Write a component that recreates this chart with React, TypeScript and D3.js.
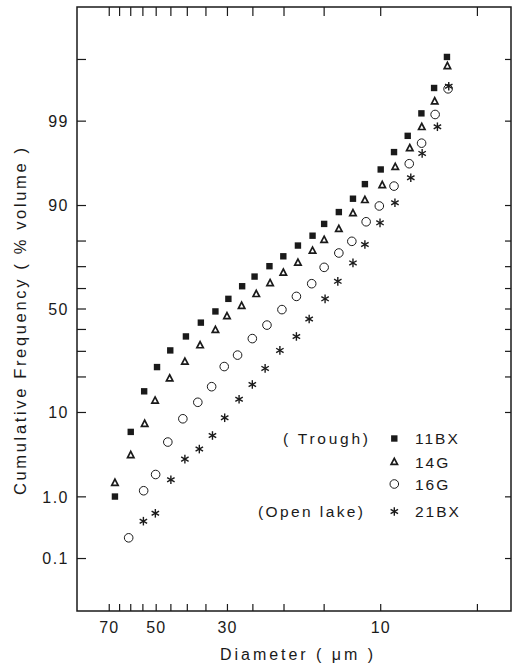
import React from "react";
import * as d3 from "d3";

// ---- axis ticks / labels ----
const tickDiameters = [70, 65, 60, 55, 50, 45, 40, 35, 30, 25, 20, 15, 10, 5];
const labelDiameters = [70, 50, 30, 10];
const tickPercents = [0.1, 1, 10, 20, 30, 40, 50, 60, 70, 80, 90, 99, 99.9];
const labelPercentValues = [0.1, 1, 10, 50, 90, 99];
const labelPercentTexts = ["0.1", "1.0", "10", "50", "90", "99"];

// ---- series: diameter (µm) and cumulative frequency (% volume) ----
const d11BX = [67.2, 60.0, 54.5, 49.7, 45.2, 40.4, 36.3, 32.7, 29.8, 27.0, 24.7, 22.2, 20.1, 18.1, 16.3, 15.0, 13.5, 12.2, 11.2, 10.0, 9.09, 8.24, 7.47, 6.82, 6.22];
const p11BX = [1.01, 6.4, 15.4, 23.6, 30.4, 36.7, 43.3, 48.8, 55.0, 61.1, 65.6, 70.2, 74.3, 78.4, 81.8, 85.4, 88.5, 91.4, 93.9, 95.8, 97.4, 98.4, 99.23, 99.69, 99.91];

const d14G = [67.2, 60.0, 54.3, 50.4, 45.4, 40.7, 36.5, 32.7, 30.1, 27.1, 24.4, 22.1, 20.1, 18.1, 16.3, 15.0, 13.5, 12.2, 11.2, 9.89, 9.01, 8.12, 7.45, 6.79, 6.20];
const p14G = [1.58, 3.55, 7.8, 12.9, 19.6, 25.8, 32.8, 39.9, 46.6, 51.7, 57.5, 62.7, 67.5, 71.8, 76.6, 80.5, 84.0, 88.3, 91.2, 93.8, 96.1, 97.7, 98.8, 99.5, 99.87];

const d16G = [60.9, 54.7, 50.2, 46.0, 41.3, 37.1, 33.6, 30.7, 27.9, 25.1, 22.6, 20.3, 18.3, 16.4, 15.0, 13.5, 12.3, 11.1, 10.1, 9.09, 8.15, 7.46, 6.77, 6.17];
const p16G = [0.23, 1.22, 2.02, 4.97, 8.7, 12.4, 16.8, 23.8, 28.4, 35.7, 42.1, 49.7, 56.2, 62.3, 69.7, 75.6, 79.9, 86.0, 89.9, 93.6, 96.4, 98.0, 99.2, 99.68];

const d21BX = [54.8, 50.3, 45.0, 40.7, 36.7, 33.4, 30.6, 27.6, 25.1, 22.9, 20.6, 18.3, 16.7, 14.9, 13.6, 12.2, 11.2, 10.05, 9.03, 8.06, 7.43, 6.66, 6.14];
const p21BX = [0.43, 0.57, 1.72, 3.15, 4.14, 5.86, 8.9, 13.2, 17.5, 23.1, 30.4, 36.7, 45.1, 55.0, 63.4, 71.6, 78.8, 85.7, 90.6, 94.8, 97.3, 98.8, 99.71];

const seriesNames = ["11BX", "14G", "16G", "21BX"];
const seriesGroups = ["( Trough)", "", "", "(Open lake)"];

// inverse normal CDF (Acklam)
function probit(p: number): number {
  const a = [-3.969683028665376e1, 2.209460984245205e2, -2.759285104469687e2, 1.38357751867269e2, -3.066479806614716e1, 2.506628277459239];
  const b = [-5.447609879822406e1, 1.615858368580409e2, -1.556989798598866e2, 6.680131188771972e1, -1.328068155288572e1];
  const c = [-7.784894002430293e-3, -3.223964580411365e-1, -2.400758277161838, -2.549732539343734, 4.374664141464968, 2.938163982698783];
  const d = [7.784695709041462e-3, 3.224671290700398e-1, 2.445134137142996, 3.754408661907416];
  const pl = 0.02425;
  let q: number, r: number;
  if (p < pl) {
    q = Math.sqrt(-2 * Math.log(p));
    return (((((c[0] * q + c[1]) * q + c[2]) * q + c[3]) * q + c[4]) * q + c[5]) / ((((d[0] * q + d[1]) * q + d[2]) * q + d[3]) * q + 1);
  }
  if (p > 1 - pl) {
    q = Math.sqrt(-2 * Math.log(1 - p));
    return -(((((c[0] * q + c[1]) * q + c[2]) * q + c[3]) * q + c[4]) * q + c[5]) / ((((d[0] * q + d[1]) * q + d[2]) * q + d[3]) * q + 1);
  }
  q = p - 0.5;
  r = q * q;
  return ((((((a[0] * r + a[1]) * r + a[2]) * r + a[3]) * r + a[4]) * r + a[5]) * q) / (((((b[0] * r + b[1]) * r + b[2]) * r + b[3]) * r + b[4]) * r + 1);
}

const W = 512, H = 668;
const L = 77, R = 511, T = 7, B = 611;
const INK = "#1a1a1a";
const FONT = "'Liberation Sans', Arial, sans-serif";

const x = d3.scaleLog().domain([88.2, 3.93]).range([L, R]);
const yz = d3.scaleLinear().domain([-3.74, 3.74]).range([B, T]);
const y = (pct: number) => yz(probit(pct / 100));

function Marker({ kind, cx, cy }: { kind: number; cx: number; cy: number }) {
  if (kind === 0) return <rect x={cx - 3.2} y={cy - 3.2} width={6.4} height={6.4} fill={INK} />;
  if (kind === 1) {
    const s = 6.4, h = s * 0.866;
    const p = d3.path();
    p.moveTo(cx, cy - h / 2 - 0.6);
    p.lineTo(cx + s / 2, cy + h / 2);
    p.lineTo(cx - s / 2, cy + h / 2);
    p.closePath();
    return <path d={p.toString()} fill="white" stroke={INK} strokeWidth={1.7} strokeLinejoin="miter" />;
  }
  if (kind === 2) return <circle cx={cx} cy={cy} r={4.3} fill="none" stroke={INK} strokeWidth={1} />;
  const len = 4.3;
  const angles = [90, 30, 150];
  return (
    <g stroke={INK} strokeWidth={1.4}>
      {angles.map((a) => {
        const r = (a * Math.PI) / 180;
        return <line key={a} x1={cx - len * Math.cos(r)} y1={cy - len * Math.sin(r)} x2={cx + len * Math.cos(r)} y2={cy + len * Math.sin(r)} />;
      })}
    </g>
  );
}

export default function App() {
  const series = [
    { d: d11BX, p: p11BX },
    { d: d14G, p: p14G },
    { d: d16G, p: p16G },
    { d: d21BX, p: p21BX },
  ];
  const legendY = [438.5, 461.7, 484, 511.5];
  return (
    <svg width={W} height={H} style={{ position: "absolute", left: 0, top: 0, background: "white" }} fontFamily={FONT}>
      <rect x={0} y={0} width={W} height={H} fill="white" />
      {/* frame */}
      <rect x={L} y={T} width={R - L} height={B - T} fill="none" stroke={INK} strokeWidth={1.5} />
      {/* x ticks */}
      {tickDiameters.map((v) => (
        <g key={"xt" + v} stroke={INK} strokeWidth={1.2}>
          <line x1={x(v)} x2={x(v)} y1={B} y2={B - 7} />
          <line x1={x(v)} x2={x(v)} y1={T} y2={T + 9} />
        </g>
      ))}
      {labelDiameters.map((v) => (
        <text key={"xl" + v} x={x(v)} y={633} textAnchor="middle" fontSize={16} letterSpacing={1} fill={INK}>
          {v}
        </text>
      ))}
      {/* y ticks */}
      {tickPercents.map((v) => (
        <g key={"yt" + v} stroke={INK} strokeWidth={1.2}>
          <line x1={L} x2={L + 9} y1={y(v)} y2={y(v)} />
          <line x1={R} x2={R - 6} y1={y(v)} y2={y(v)} />
        </g>
      ))}
      {labelPercentValues.map((v, i) => (
        <text key={"yl" + v} x={69} y={y(v) + 5.8} textAnchor="end" fontSize={16} letterSpacing={1.5} fill={INK}>
          {labelPercentTexts[i]}
        </text>
      ))}
      {/* axis titles */}
      <text x={220} y={660} fontSize={16} textLength={153} lengthAdjust="spacing" fill={INK}>
        Diameter ( μm )
      </text>
      <text transform="translate(26,495) rotate(-90)" x={0} y={0} fontSize={16.5} textLength={347} lengthAdjust="spacing" fill={INK}>
        Cumulative Frequency ( % volume )
      </text>
      {/* data */}
      {series.map((s, k) => (
        <g key={"s" + k}>
          {s.d.map((dv, i) => (
            <Marker key={i} kind={k} cx={x(dv)} cy={y(s.p[i])} />
          ))}
        </g>
      ))}
      {/* legend */}
      {seriesNames.map((n, k) => (
        <g key={"lg" + k}>
          <Marker kind={k} cx={394.3} cy={legendY[k]} />
          <text x={415} y={legendY[k] + 5.8} fontSize={15.5} letterSpacing={2} fill={INK}>
            {n}
          </text>
          {seriesGroups[k] && (
            <text x={k === 0 ? 283 : 258} y={legendY[k] + 5.8} fontSize={15.5} textLength={k === 0 ? 85 : 105} lengthAdjust="spacing" fill={INK}>
              {seriesGroups[k]}
            </text>
          )}
        </g>
      ))}
    </svg>
  );
}
